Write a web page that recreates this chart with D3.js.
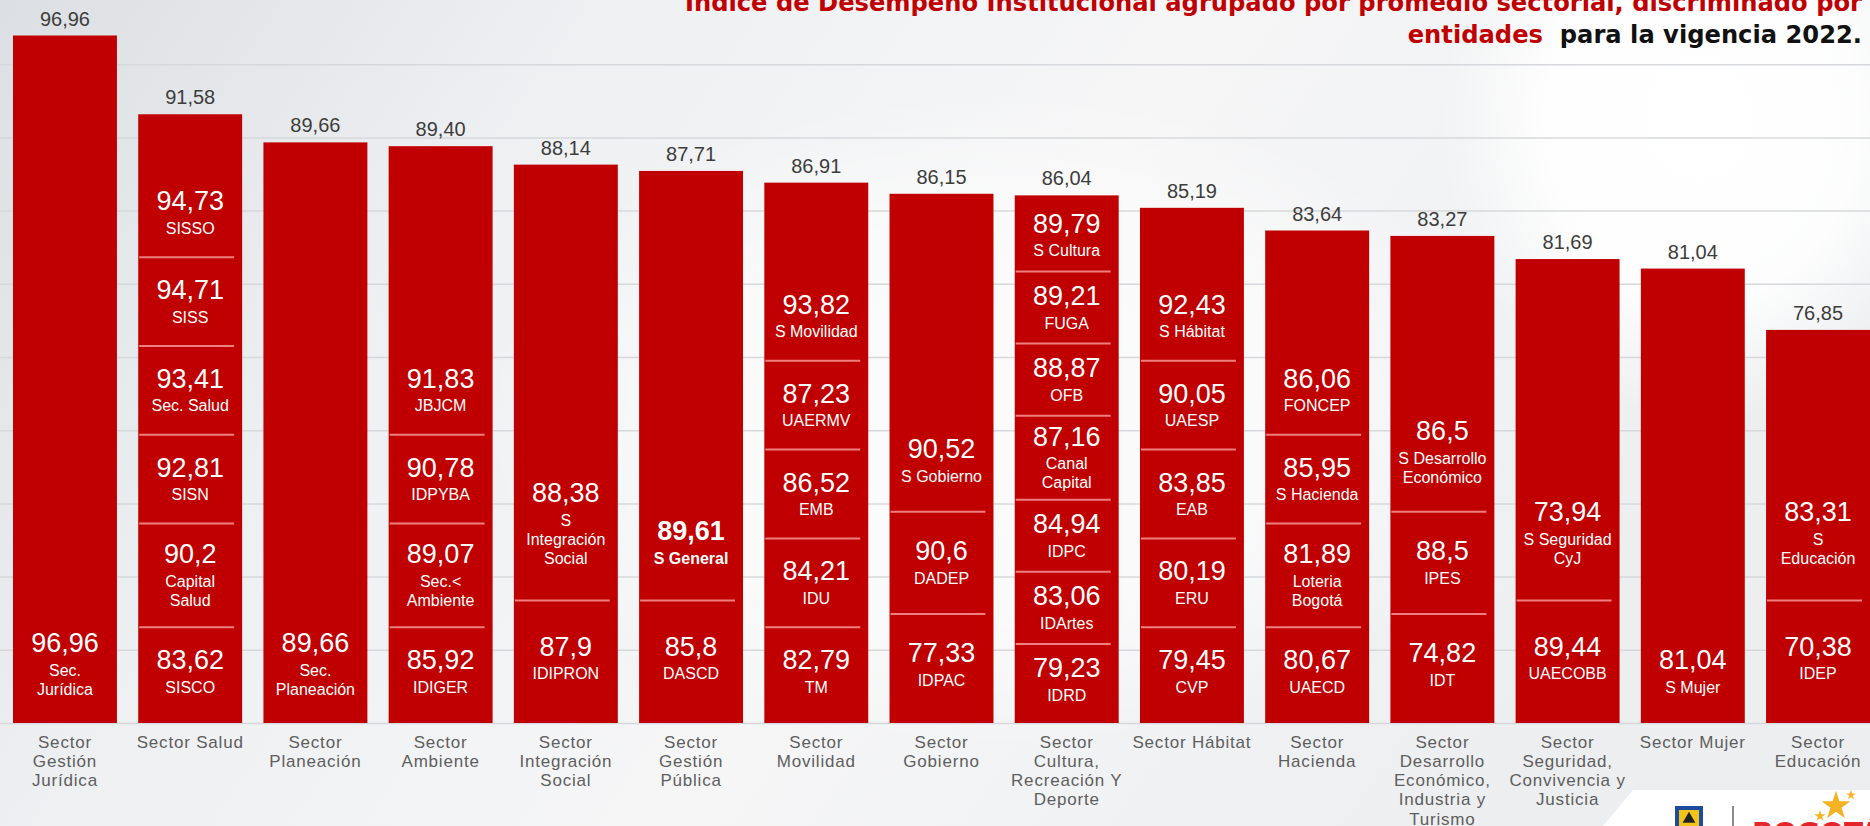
<!DOCTYPE html>
<html>
<head>
<meta charset="utf-8">
<script src="https://cdn.jsdelivr.net/npm/d3@7"></script>
<style>
  html, body { margin: 0; padding: 0; overflow: hidden; background: #fff; }
  #chart { width: 1870px; height: 826px; }
</style>
</head>
<body>
<div id="chart"></div>
<script>
// sectors, ordered as in the picture
const sectors = [
  "Sector Gestión Jurídica", "Sector Salud", "Sector Planeación", "Sector Ambiente",
  "Sector Integración Social", "Sector Gestión Pública", "Sector Movilidad", "Sector Gobierno",
  "Sector Cultura, Recreación Y Deporte", "Sector Hábitat", "Sector Hacienda",
  "Sector Desarrollo Económico, Industria y Turismo", "Sector Seguridad, Convivencia y Justicia",
  "Sector Mujer", "Sector Educación"
];
const sectorLabels = [
  ["Sector", "Gestión", "Jurídica"], ["Sector Salud"], ["Sector", "Planeación"], ["Sector", "Ambiente"],
  ["Sector", "Integración", "Social"], ["Sector", "Gestión", "Pública"], ["Sector", "Movilidad"],
  ["Sector", "Gobierno"], ["Sector", "Cultura,", "Recreación Y", "Deporte"], ["Sector Hábitat"],
  ["Sector", "Hacienda"], ["Sector", "Desarrollo", "Económico,", "Industria y", "Turismo"],
  ["Sector", "Seguridad,", "Convivencia y", "Justicia"], ["Sector Mujer"], ["Sector", "Educación"]
];
const sectorValues = [96.96, 91.58, 89.66, 89.40, 88.14, 87.71, 86.91, 86.15, 86.04, 85.19, 83.64, 83.27, 81.69, 81.04, 76.85];

// entities inside each bar, top to bottom
const entityValues = [
  [96.96],
  [94.73, 94.71, 93.41, 92.81, 90.2, 83.62],
  [89.66],
  [91.83, 90.78, 89.07, 85.92],
  [88.38, 87.9],
  [89.61, 85.8],
  [93.82, 87.23, 86.52, 84.21, 82.79],
  [90.52, 90.6, 77.33],
  [89.79, 89.21, 88.87, 87.16, 84.94, 83.06, 79.23],
  [92.43, 90.05, 83.85, 80.19, 79.45],
  [86.06, 85.95, 81.89, 80.67],
  [86.5, 88.5, 74.82],
  [73.94, 89.44],
  [81.04],
  [83.31, 70.38]
];
const entityNames = [
  [["Sec.", "Jurídica"]],
  [["SISSO"], ["SISS"], ["Sec. Salud"], ["SISN"], ["Capital", "Salud"], ["SISCO"]],
  [["Sec.", "Planeación"]],
  [["JBJCM"], ["IDPYBA"], ["Sec.<", "Ambiente"], ["IDIGER"]],
  [["S", "Integración", "Social"], ["IDIPRON"]],
  [["S General"], ["DASCD"]],
  [["S Movilidad"], ["UAERMV"], ["EMB"], ["IDU"], ["TM"]],
  [["S Gobierno"], ["DADEP"], ["IDPAC"]],
  [["S Cultura"], ["FUGA"], ["OFB"], ["Canal", "Capital"], ["IDPC"], ["IDArtes"], ["IDRD"]],
  [["S Hábitat"], ["UAESP"], ["EAB"], ["ERU"], ["CVP"]],
  [["FONCEP"], ["S Hacienda"], ["Loteria", "Bogotá"], ["UAECD"]],
  [["S Desarrollo", "Económico"], ["IPES"], ["IDT"]],
  [["S Seguridad", "CyJ"], ["UAECOBB"]],
  [["S Mujer"]],
  [["S", "Educación"], ["IDEP"]]
];
const boldEntities = ["S General"];
const gridTicks = [50, 55, 60, 65, 70, 75, 80, 85, 90, 95];

const titleLine1 = "Índice de Desempeño Institucional agrupado por promedio sectorial, discriminado por";
const titleRed = "entidades";
const titleBlack = "  para la vigencia 2022.";

const fmtTop = v => v.toFixed(2).replace(".", ",");
const fmtIn = v => String(v).replace(".", ",");

const W = 1870, H = 826;
const RED = "#c00000";
const NUM_FONT = "'Liberation Sans', Arial, sans-serif";

const svg = d3.select("#chart").append("svg").attr("width", W).attr("height", H);
const defs = svg.append("defs");

// background
const bg = defs.append("linearGradient").attr("id", "bg").attr("x1", 0).attr("x2", 1).attr("y1", 0).attr("y2", 0.3);
bg.append("stop").attr("offset", "0%").attr("stop-color", "#dcdfe3");
bg.append("stop").attr("offset", "30%").attr("stop-color", "#eef0f2");
bg.append("stop").attr("offset", "60%").attr("stop-color", "#f6f6f7");
bg.append("stop").attr("offset", "100%").attr("stop-color", "#eceef0");
const glow = defs.append("radialGradient").attr("id", "glow");
glow.append("stop").attr("offset", "0%").attr("stop-color", "#fff").attr("stop-opacity", 1);
glow.append("stop").attr("offset", "60%").attr("stop-color", "#fff").attr("stop-opacity", 0.9);
glow.append("stop").attr("offset", "100%").attr("stop-color", "#fff").attr("stop-opacity", 0);

svg.append("rect").attr("width", W).attr("height", H).attr("fill", "url(#bg)");
svg.append("ellipse").attr("cx", 1700).attr("cy", 120).attr("rx", 260).attr("ry", 300).attr("fill", "url(#glow)");
svg.append("ellipse").attr("cx", 1000).attr("cy", 420).attr("rx", 520).attr("ry", 330).attr("fill", "url(#glow)").attr("opacity", 0.6);

// scales
const x = d3.scaleBand().domain(sectors).range([13, 1870]).paddingInner(0.17).paddingOuter(0);
const y = d3.scaleLinear().domain([50, 100]).range([723, -9]);

// gridlines
const grid = svg.append("g").attr("class", "grid")
  .call(d3.axisRight(y).tickValues(gridTicks).tickSize(W).tickFormat(""));
grid.select(".domain").remove();
grid.selectAll(".tick line").attr("stroke", "#d6d8db").attr("stroke-width", 1.5);

// bars
const rows = sectors.map((s, i) => ({
  sector: s, value: sectorValues[i], label: sectorLabels[i],
  ents: entityValues[i].map((v, j) => ({ value: v, name: entityNames[i][j] }))
}));

const bars = svg.append("g").selectAll("g.bar").data(rows).join("g").attr("class", "bar");

bars.append("rect")
  .attr("x", d => x(d.sector))
  .attr("y", d => y(d.value))
  .attr("width", x.bandwidth())
  .attr("height", d => y(50) - y(d.value))
  .attr("fill", RED);

bars.append("text")
  .attr("x", d => x(d.sector) + x.bandwidth() / 2)
  .attr("y", d => y(d.value) - 10)
  .attr("text-anchor", "middle")
  .attr("font-family", NUM_FONT)
  .attr("font-size", 20)
  .attr("fill", "#3d3d3d")
  .text(d => fmtTop(d.value));

// segment layout inside each bar, stacked above stackBottom
// (fewer entities -> taller boxes, as in the source slide)
const stackBottom = 716;
bars.each(function (d) {
  const g = d3.select(this);
  const x0 = x(d.sector), bw = x.bandwidth();
  const n = d.ents.length;
  const weights = d.ents.map(e => e.name.length + 5);
  const sumW = d3.sum(weights);
  const grow = n >= 2 && n < 4 ? 1 + 0.15 * (4 - n) : 1;
  const unit = Math.min(14.8 * grow, (stackBottom - y(d.value) - 4) / sumW);
  let cursor = stackBottom - unit * sumW;
  d.ents.forEach((e, j) => {
    const h = weights[j] * unit;
    const top = cursor;
    cursor += h;
    if (j > 0) {
      g.append("line")
        .attr("x1", x0 + 1).attr("x2", x0 + bw - 8)
        .attr("y1", top).attr("y2", top)
        .attr("stroke", "#ee8080").attr("stroke-width", 2);
    }
    const L = e.name.length;
    const vc = top + h / 2 - 11.5 - 9.5 * (L - 1);
    const bold = boldEntities.includes(e.name.join(" "));
    g.append("text")
      .attr("x", x0 + bw / 2).attr("y", vc)
      .attr("text-anchor", "middle").attr("dominant-baseline", "central")
      .attr("font-family", NUM_FONT).attr("font-size", 27)
      .attr("font-weight", bold ? "bold" : "normal")
      .attr("fill", "#fff")
      .text(fmtIn(e.value));
    e.name.forEach((ln, k) => {
      g.append("text")
        .attr("x", x0 + bw / 2).attr("y", vc + 27 + 19 * k)
        .attr("text-anchor", "middle").attr("dominant-baseline", "central")
        .attr("font-family", NUM_FONT).attr("font-size", 16)
        .attr("font-weight", bold ? "bold" : "normal")
        .attr("fill", "#fff")
        .text(ln);
    });
  });
});

// category labels
bars.each(function (d) {
  d3.select(this).selectAll("text.cat").data(d.label).join("text")
    .attr("class", "cat")
    .attr("x", x(d.sector) + x.bandwidth() / 2)
    .attr("y", (t, k) => 742 + 19.3 * k)
    .attr("text-anchor", "middle").attr("dominant-baseline", "central")
    .attr("font-family", NUM_FONT).attr("font-size", 17)
    .attr("letter-spacing", 0.8)
    .attr("fill", "#5e5e5e")
    .text(t => t);
});

// title
const title = svg.append("g").attr("font-family", "'DejaVu Sans', sans-serif").attr("font-weight", "bold").attr("font-size", 24.2);
title.append("text").attr("x", 1862).attr("y", 11).attr("text-anchor", "end").attr("fill", RED).text(titleLine1);
const t2 = title.append("text").attr("x", 1862).attr("y", 43).attr("text-anchor", "end").attr("xml:space", "preserve");
t2.append("tspan").attr("fill", RED).text(titleRed);
t2.append("tspan").attr("fill", "#111").text(titleBlack);

// logo corner
svg.append("polygon").attr("points", "1633,790 1870,790 1870,826 1603,826").attr("fill", "#fff");
svg.append("rect").attr("x", 1675).attr("y", 806).attr("width", 28).attr("height", 22).attr("fill", "#1d4c9c");
svg.append("rect").attr("x", 1679).attr("y", 810).attr("width", 20).attr("height", 18).attr("fill", "#f2c318");
svg.append("path").attr("transform", "translate(1689,819)").attr("d", d3.symbol(d3.symbolTriangle, 70)()).attr("fill", "#222");
svg.append("line").attr("x1", 1733).attr("x2", 1733).attr("y1", 806).attr("y2", 826).attr("stroke", "#666").attr("stroke-width", 1.5);
svg.append("text").attr("x", 1752).attr("y", 843).attr("font-family", "'DejaVu Sans', sans-serif").attr("font-weight", "bold")
  .attr("font-size", 28).attr("fill", "#e4252b").text("BOGOTÁ");
svg.append("path").attr("transform", "translate(1836,806)").attr("d", d3.symbol(d3.symbolStar, 260)()).attr("fill", "#f5b324");
svg.append("path").attr("transform", "translate(1820,816)").attr("d", d3.symbol(d3.symbolStar, 40)()).attr("fill", "#f5b324");
svg.append("path").attr("transform", "translate(1851,795)").attr("d", d3.symbol(d3.symbolStar, 30)()).attr("fill", "#f5b324");
</script>
</body>
</html>
